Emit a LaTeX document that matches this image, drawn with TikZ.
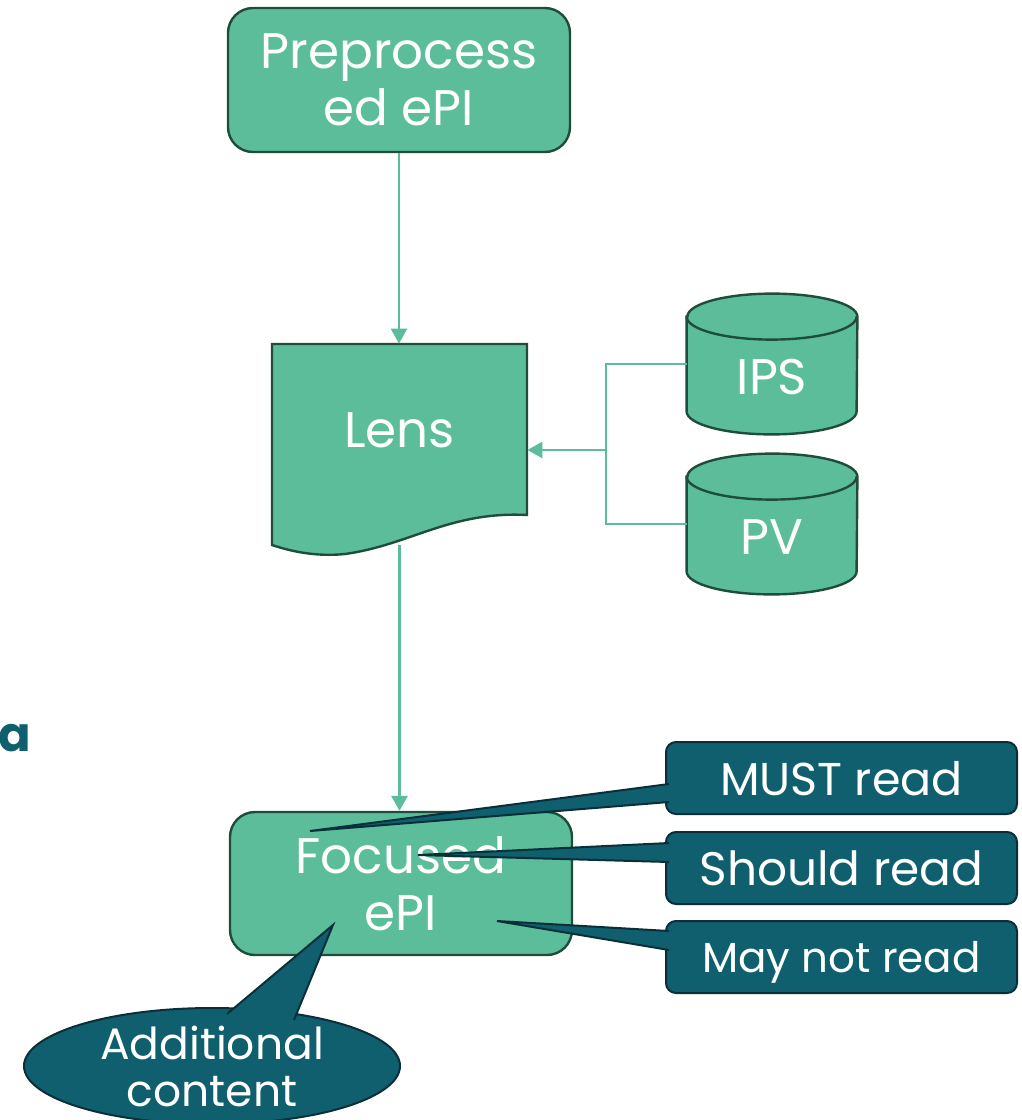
\documentclass[tikz,border=0pt]{standalone}
\usepackage{fontspec}
\setmainfont{Poppins}
\usetikzlibrary{positioning,calc,arrows.meta,shapes.geometric}
\definecolor{boxgreen}{HTML}{5CBD9A}
\definecolor{boxedge}{HTML}{1E4D3C}
\definecolor{calloutteal}{HTML}{0F5F6F}
\definecolor{calloutedge}{HTML}{0A2F38}
\tikzset{%
  green box/.style={
    rounded corners=12.5pt,
    draw=boxedge,
    fill=boxgreen,
    line width=1.2pt,
    text=white,
    align=center,
    minimum width=171pt,
    minimum height=72pt,
    font=\fontsize{25}{28.5}\selectfont
  },
  big text/.style={
    text=white,
    font=\fontsize{25}{28.5}\selectfont
  },
  callout box/.style={
    rounded corners=5pt,
    draw=calloutedge,
    fill=calloutteal,
    line width=1pt,
    text=white,
    text depth=0pt,
    minimum width=175.5pt,
    minimum height=36pt
  },
  callout tail/.style={
    fill=calloutteal,
    draw=calloutedge,
    line width=1pt,
    line join=miter
  },
  frame/.style={
    minimum width=127.5pt,
    minimum height=47pt,
    inner sep=0pt
  },
  cyl/.style={
    fill=boxgreen,
    draw=boxedge,
    line width=1.2pt
  },
  flow/.style={
    draw=boxgreen,
    line width=1.4pt
  },
}

\begin{document}
\begin{tikzpicture}[x=0.5pt, y=-0.5pt, >={Triangle[length=7.5pt,width=8pt]}]
        \useasboundingbox (0,0) rectangle (1022,1120);

        % top box
        \node [green box] (pre) at (399,80) {Preprocess\\ed ePI};

        % lens (document shape)
        \node [frame, minimum height=100.5pt] (lens) at (399.5,444.5) {};
        \filldraw [cyl] (272,344) -- (527,344) -- (527,515)
            .. controls (450,511) and (410,545) .. (345,554)
            .. controls (315,557) and (290,551) .. (272,545) -- cycle;
        \node [big text] (lenslabel) at (399.5,430) {Lens};

        % data stores
        \node [frame, minimum width=85pt] (ips) at (772,364) {};
        \node [frame, minimum width=85pt] (pv) at (772,524) {};
        \foreach \c/\l in {ips/IPS, pv/PV} {
            \filldraw [cyl] (\c.north west) -- (\c.south west)
                arc [start angle=180, end angle=360, x radius=42.5pt, y radius=11.5pt]
                -- (\c.north east)
                arc [start angle=0, end angle=180, x radius=42.5pt, y radius=11.5pt] -- cycle;
            \draw [cyl, fill=none] (\c.north west)
                arc [start angle=180, end angle=360, x radius=42.5pt, y radius=11.5pt];
            \node [big text] (\c-label) at ($(\c)+(0,13)$) {\l};
        }

        % bottom box
        \node [green box, minimum height=71.5pt] (focused) at (401,883.5) {Focused\\ePI};

        % connectors
        \coordinate (jn) at (606,450);
        \draw [flow, ->] (pre.south) -- (pre.south |- lens.north);
        \draw [flow, ->] (lens.south) -- (lens.south |- focused.north);
        \draw [flow] (ips.west) -| (jn) |- (pv.west);
        \draw [flow, ->] (jn) -- (jn -| lens.east);

        \node [text=calloutteal, font=\fontsize{24}{28}\selectfont\bfseries] (mark) at (15,738) {a};

        % callouts
        \foreach \n/\t/\s/\y in {must/MUST read/23/778, should/Should read/23.5/868, maynot/May not read/21/957}
            \node [callout box, font=\fontsize{\s}{\s}\selectfont] (\n) at (841.5,\y) {\t};

        \coordinate (musttip) at (310,831);
        \coordinate (shouldtip) at (418,855);
        \coordinate (maynottip) at (497,921);
        \foreach \n/\a/\b in {must/6/24, should/-25/-6, maynot/-26/-7}
            \filldraw [callout tail] ($(\n.west)+(4,\a)$) -- (\n tip) -- ($(\n.west)+(4,\b)$);

        \node [ellipse, fill=calloutteal, draw=calloutedge, line width=1pt, text=white,
               minimum width=188pt, minimum height=58pt, inner sep=0pt, align=center,
               font=\fontsize{22}{23.5}\selectfont] (extra) at (212,1066) {Additional\\content};
        \coordinate (extratip) at (333,925);
        \filldraw [callout tail] ($(extra)+(15,-52)$) -- (extratip) -- ($(extra)+(82,-46)$);
\end{tikzpicture}
\end{document}
